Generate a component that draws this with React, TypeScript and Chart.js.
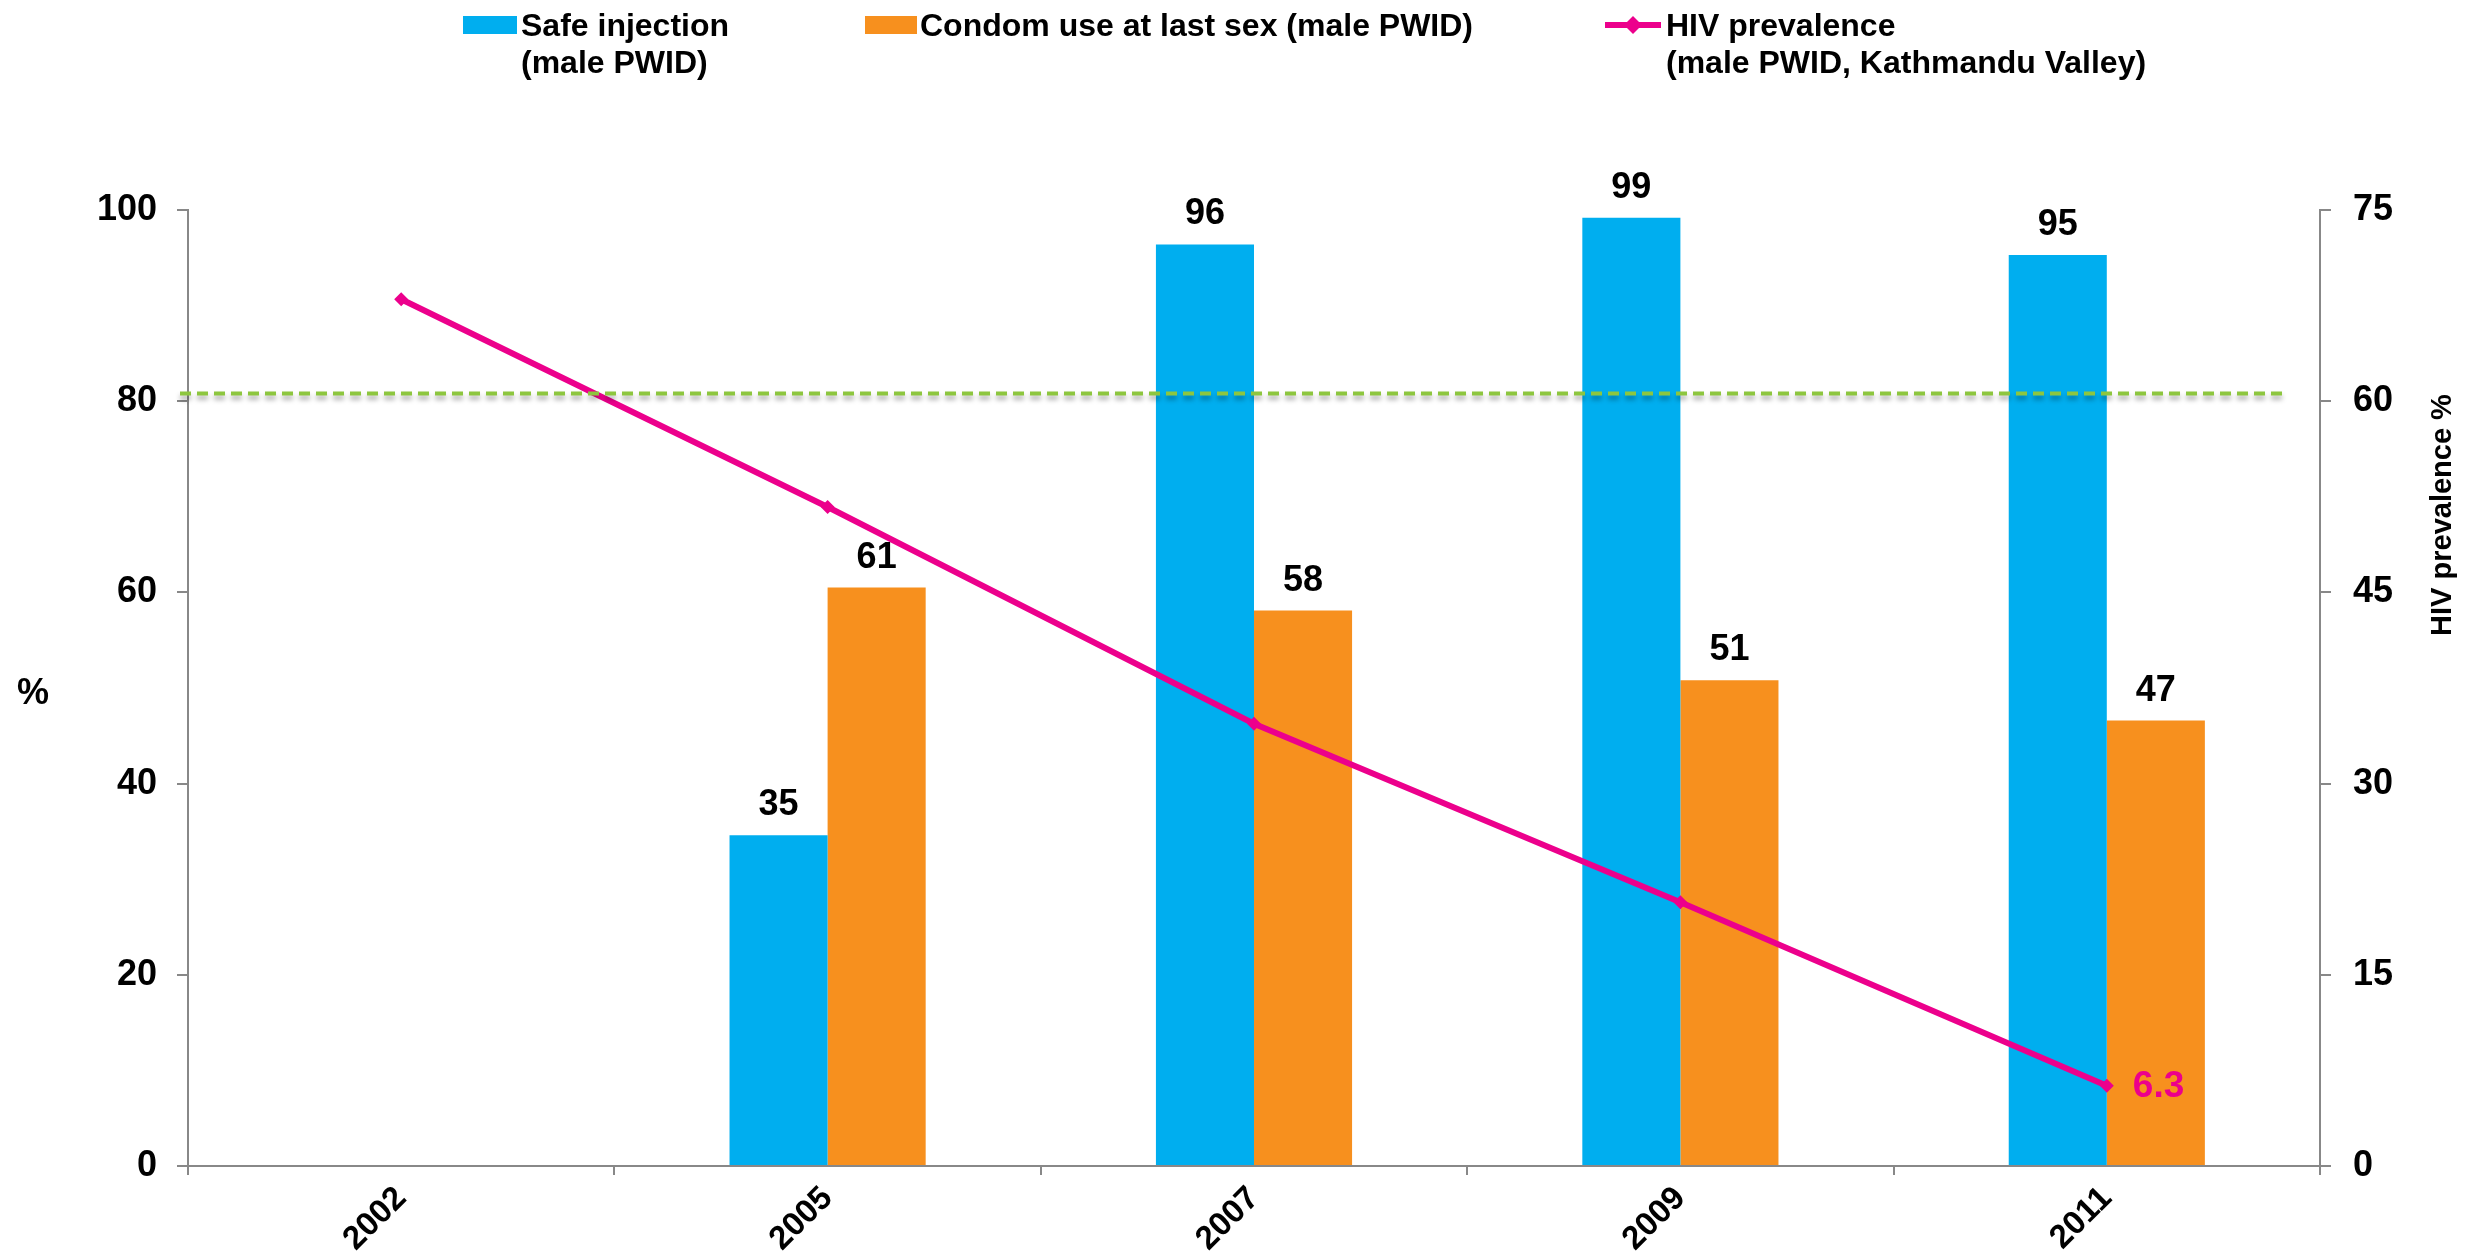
import React, { useEffect, useRef } from "react";
import { Chart, registerables } from "chart.js";

Chart.register(...registerables);

const years = ["2002", "2005", "2007", "2009", "2011"];
const safeInjection = [null, 34.6, 96.4, 99.2, 95.3];
const condomUse = [null, 60.5, 58.1, 50.8, 46.6];
const hivPrevalence = [68, 51.7, 34.7, 20.7, 6.3];
const targetValue = 80.8;
const leftAxisMax = 100;
const leftAxisStep = 20;
const rightAxisMax = 75;
const rightAxisStep = 15;
const legendSafe = ["Safe injection", "(male PWID)"];
const legendCondom = ["Condom use at last sex (male PWID)"];
const legendHiv = ["HIV prevalence", "(male PWID, Kathmandu Valley)"];
const leftAxisTitle = "%";
const rightAxisTitle = "HIV prevalence %";

const FONT = '"Liberation Sans", Arial, Helvetica, sans-serif';
const BLUE = "#00AEEF";
const ORANGE = "#F7901E";
const PINK = "#EC008C";
const GREEN = "#8DC63F";
const AXIS = "#888888";

const overlayPlugin = {
  id: "overlay",
  afterDatasetsDraw(chart: any) {
    const ctx = chart.ctx;
    const area = chart.chartArea;
    const y = chart.scales.y;
    // target dashed line
    const ty = y.getPixelForValue(targetValue);
    ctx.save();
    ctx.strokeStyle = GREEN;
    ctx.lineWidth = 4;
    ctx.setLineDash([11, 6]);
    ctx.shadowColor = "rgba(0,0,0,0.35)";
    ctx.shadowBlur = 5;
    ctx.shadowOffsetY = 4;
    ctx.beginPath();
    ctx.moveTo(area.left - 8, ty);
    ctx.lineTo(area.right - 38, ty);
    ctx.stroke();
    ctx.restore();

    // bar labels
    ctx.save();
    ctx.font = `bold 36px ${FONT}`;
    ctx.fillStyle = "#000";
    ctx.textAlign = "center";
    ctx.textBaseline = "alphabetic";
    [0, 1].forEach((di) => {
      const meta = chart.getDatasetMeta(di);
      const data = chart.data.datasets[di].data;
      meta.data.forEach((el: any, i: number) => {
        const v = data[i];
        if (v === null || v === undefined) return;
        ctx.fillText(String(Math.round(v)), el.x, el.y - 20);
      });
    });
    // last HIV label
    const lmeta = chart.getDatasetMeta(2);
    const last = lmeta.data[lmeta.data.length - 1];
    ctx.fillStyle = PINK;
    ctx.font = `bold 37px ${FONT}`;
    ctx.textAlign = "left";
    ctx.textBaseline = "middle";
    ctx.fillText(String(hivPrevalence[hivPrevalence.length - 1]), last.x + 26, last.y + 1);
    ctx.restore();
  },
  afterDraw(chart: any) {
    const ctx = chart.ctx;
    ctx.save();
    // axis titles
    ctx.fillStyle = "#000";
    ctx.font = `bold 36px ${FONT}`;
    ctx.textAlign = "center";
    ctx.textBaseline = "middle";
    ctx.fillText(leftAxisTitle, 33, 694);
    ctx.save();
    ctx.translate(2443, 515);
    ctx.rotate(-Math.PI / 2);
    ctx.font = `bold 29px ${FONT}`;
    ctx.fillText(rightAxisTitle, 0, 0);
    ctx.restore();

    // legend
    ctx.font = `bold 32px ${FONT}`;
    ctx.textAlign = "left";
    ctx.textBaseline = "alphabetic";
    const drawLines = (lines: string[], x: number) => {
      lines.forEach((t, i) => ctx.fillText(t, x, 36 + i * 37));
    };
    ctx.fillStyle = BLUE;
    ctx.fillRect(463, 16, 54, 18);
    ctx.fillStyle = "#000";
    drawLines(legendSafe, 521);
    ctx.fillStyle = ORANGE;
    ctx.fillRect(865, 16, 52, 18);
    ctx.fillStyle = "#000";
    drawLines(legendCondom, 920);
    ctx.strokeStyle = PINK;
    ctx.lineWidth = 6;
    ctx.beginPath();
    ctx.moveTo(1605, 25);
    ctx.lineTo(1661, 25);
    ctx.stroke();
    ctx.fillStyle = PINK;
    ctx.beginPath();
    ctx.moveTo(1633, 16);
    ctx.lineTo(1642, 25);
    ctx.lineTo(1633, 34);
    ctx.lineTo(1624, 25);
    ctx.closePath();
    ctx.fill();
    ctx.fillStyle = "#000";
    drawLines(legendHiv, 1666);
    ctx.restore();
  },
};

export default function App() {
  const ref = useRef<HTMLCanvasElement>(null);
  useEffect(() => {
    if (!ref.current) return;
    const tickFont = { family: FONT, size: 36, weight: "bold" as const };
    const chart = new Chart(ref.current, {
      type: "bar",
      data: {
        labels: years,
        datasets: [
          {
            label: legendSafe.join(" "),
            data: safeInjection as any,
            backgroundColor: BLUE,
            yAxisID: "y",
            order: 2,
            categoryPercentage: 0.46,
            barPercentage: 1,
          },
          {
            label: legendCondom.join(" "),
            data: condomUse as any,
            backgroundColor: ORANGE,
            yAxisID: "y",
            order: 2,
            categoryPercentage: 0.46,
            barPercentage: 1,
          },
          {
            type: "line",
            label: legendHiv.join(" "),
            data: hivPrevalence,
            borderColor: PINK,
            backgroundColor: PINK,
            borderWidth: 6,
            pointStyle: "rectRot",
            pointRadius: 7,
            pointBorderWidth: 0,
            yAxisID: "y1",
            order: 0,
          } as any,
        ],
      },
      options: {
        responsive: false,
        animation: false,
        devicePixelRatio: 1,
        layout: { padding: { top: 210, left: 0, right: 0, bottom: 0 } },
        plugins: { legend: { display: false }, tooltip: { enabled: false } },
        scales: {
          x: {
            offset: true,
            grid: { offset: true, drawOnChartArea: false, tickLength: 9, color: AXIS, lineWidth: 2 },
            border: { color: AXIS, width: 2 },
            ticks: { font: { family: FONT, size: 33, weight: "bold" }, color: "#000", minRotation: 45, maxRotation: 45, padding: 4 },
            afterFit: (s: any) => {
              s.height = 94;
            },
          },
          y: {
            position: "left",
            min: 0,
            max: leftAxisMax,
            ticks: { stepSize: leftAxisStep, font: tickFont, color: "#000", padding: 20 },
            grid: { drawOnChartArea: false, tickLength: 11, color: AXIS, lineWidth: 2 },
            border: { color: AXIS, width: 2 },
            afterFit: (s: any) => {
              s.width = 188;
            },
          },
          y1: {
            position: "right",
            min: 0,
            max: rightAxisMax,
            ticks: { stepSize: rightAxisStep, font: tickFont, color: "#000", padding: 22 },
            grid: { drawOnChartArea: false, tickLength: 11, color: AXIS, lineWidth: 2 },
            border: { color: AXIS, width: 2 },
            afterFit: (s: any) => {
              s.width = 167;
            },
          },
        } as any,
      },
      plugins: [overlayPlugin],
    });
    return () => chart.destroy();
  }, []);
  return (
    <div style={{ position: "fixed", left: 0, top: 0, width: 2487, height: 1260, background: "#fff" }}>
      <canvas ref={ref} width={2487} height={1260} style={{ display: "block" }} />
    </div>
  );
}
